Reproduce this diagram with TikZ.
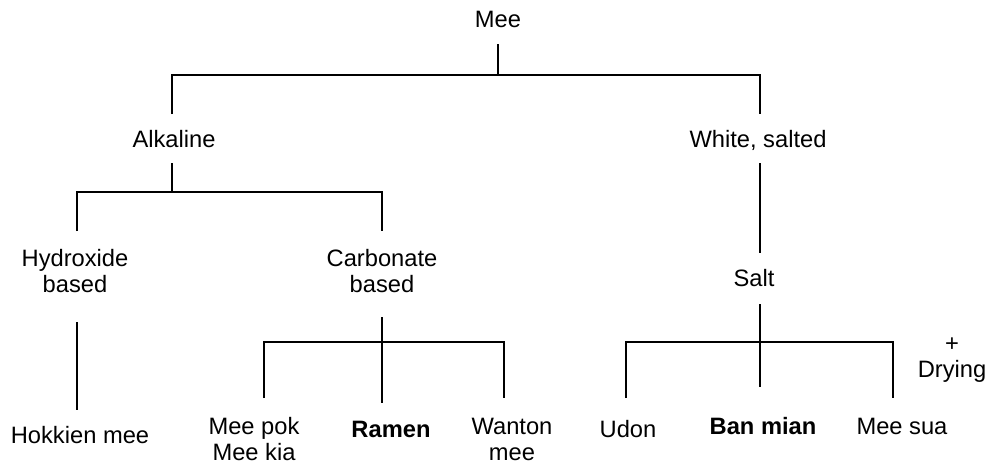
\documentclass[tikz,border=0pt]{standalone}
\usepackage{fontspec}
\setmainfont{Liberation Sans}
\newcommand{\twoline}[2]{\begin{tabular}[t]{@{}c@{}}#1\\#2\end{tabular}}
\begin{document}
\begin{tikzpicture}[x=1pt,y=-1pt,
  lbl/.style={inner sep=0pt, anchor=base, font=\fontsize{23.7}{26.5}\selectfont},
  link/.style={line width=1.8pt, line cap=butt, line join=miter}]
\useasboundingbox (0,0) rectangle (989,464);
% text nodes
\node[lbl] (mee) at (498,27) {Mee};
\node[lbl] (alk) at (174,147) {Alkaline};
\node[lbl] (wht) at (758,147) {White, salted};
\node[lbl] (hyd) at (75,266) {\twoline{Hydroxide}{based}};
\node[lbl] (carb) at (382,266) {\twoline{Carbonate}{based}};
\node[lbl] (salt) at (754,286) {Salt};
\node[lbl] (hok) at (80,443) {Hokkien mee};
\node[lbl] (pok) at (254,434) {\twoline{Mee pok}{Mee kia}};
\node[lbl] (ram) at (391,437) {\textbf{Ramen}};
\node[lbl] (wan) at (512,434) {\twoline{Wanton}{mee}};
\node[lbl] (udon) at (628,437) {Udon};
\node[lbl] (ban) at (763,434) {\textbf{Ban mian}};
\node[lbl] (sua) at (902,434) {Mee sua};
\node[lbl] (dry) at (952,351) {\twoline{+}{Drying}};
% connector end points
\coordinate (meeB) at (498,44);
\coordinate (j0) at (498,75);
\coordinate (alkT) at (172,114);
\coordinate (whtT) at (760,114);
\coordinate (alkB) at (172,163);
\coordinate (j1) at (172,192);
\coordinate (hydT) at (77,231);
\coordinate (carbT) at (382,231);
\coordinate (whtB) at (760,163);
\coordinate (saltT) at (760,253);
\coordinate (hydB) at (77,322);
\coordinate (hokT) at (77,410);
\coordinate (carbB) at (382,317);
\coordinate (j2) at (382,342);
\coordinate (ramT) at (382,403);
\coordinate (pokT) at (264,398);
\coordinate (wanT) at (504,398);
\coordinate (saltB) at (760,304);
\coordinate (j3) at (760,342);
\coordinate (banT) at (760,387);
\coordinate (udonT) at (626,398);
\coordinate (suaT) at (893,398);
% connectors
\draw[link] (meeB) -- (j0);
\draw[link] (alkT) |- (j0) -| (whtT);
\draw[link] (alkB) -- (j1);
\draw[link] (hydT) |- (j1) -| (carbT);
\draw[link] (whtB) -- (saltT);
\draw[link] (hydB) -- (hokT);
\draw[link] (carbB) -- (ramT);
\draw[link] (pokT) |- (j2) -| (wanT);
\draw[link] (saltB) -- (banT);
\draw[link] (udonT) |- (j3) -| (suaT);
\end{tikzpicture}
\end{document}
